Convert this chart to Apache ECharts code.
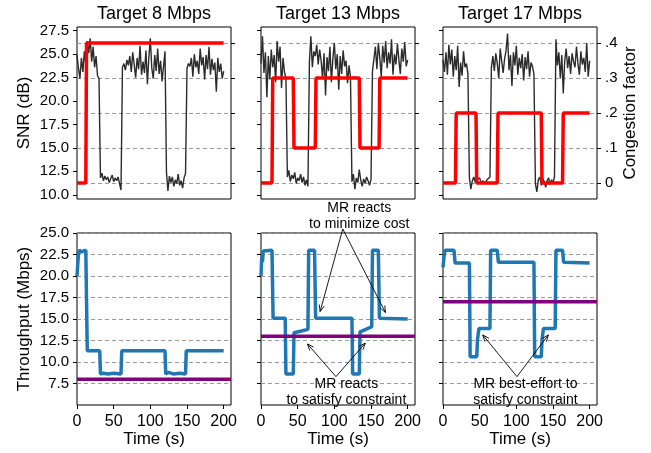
<!DOCTYPE html>
<html>
<head>
<meta charset="utf-8">
<script src="https://cdn.jsdelivr.net/npm/echarts@6/dist/echarts.min.js"></script>
<style>
html, body { margin: 0; padding: 0; background: #fff; }
#main { width: 651px; height: 453px; }
</style>
</head>
<body>
<div id="main"></div>
<script>
var titles = ['Target 8 Mbps', 'Target 13 Mbps', 'Target 17 Mbps'];
var targets = [8, 13, 17];

// SNR samples, one every 2 s from t = 0 to 200
var snrStep = 2;
var snr8 = [24.9, 23.5, 22.4, 24.6, 23.1, 25.3, 23.9, 26.4, 25.1, 26.7, 24.2, 25.8, 23.6, 24.8, 22.7, 22.4,
    11.8, 12.3, 11.5, 12.0, 11.6, 11.9, 11.3, 11.7, 12.1, 11.4, 11.8, 11.5, 11.9, 11.2, 10.5,
    23.6, 24.0, 23.3, 24.4, 23.8, 24.8, 23.1, 25.2, 23.9, 22.5, 24.6, 23.4, 25.9, 22.8, 24.2,
    23.0, 25.4, 21.8, 24.7, 26.7, 23.5, 22.4, 24.9, 23.2, 25.6, 22.9, 24.3, 22.1, 23.7, 25.3,
    12.4, 10.4, 12.0, 11.3, 11.9, 10.9, 11.6, 11.2, 12.2, 11.0, 11.5, 10.7, 11.8, 12.3,
    23.5, 24.0, 23.7, 24.6, 22.6, 25.0, 23.6, 24.3, 22.9, 25.6, 23.8, 24.7, 22.3, 24.9, 23.4,
    25.8, 22.8, 24.5, 23.3, 24.1, 21.0, 24.6, 23.1, 24.0, 22.4, 23.2];
var snr13 = [24.0, 26.9, 23.0, 25.2, 20.4, 24.8, 22.3, 25.5, 23.6, 24.9, 22.0, 26.4, 24.2, 25.8, 21.4, 24.6, 23.1, 22.4,
    11.9, 12.6, 11.4, 12.1, 11.7, 12.4, 11.2, 11.8, 11.5, 12.2, 11.3, 11.9, 11.0, 11.6, 10.9,
    24.2, 26.9, 23.6, 25.3, 24.8, 26.0, 23.9, 25.5, 24.3, 22.4, 25.1, 20.6, 24.7, 23.2, 25.8,
    22.0, 24.5, 26.2, 23.4, 25.0, 21.2, 24.8, 22.9, 25.4, 23.7, 24.3, 21.9, 23.8, 22.6,
    11.4, 12.2, 10.6, 11.8, 11.3, 12.7, 11.6, 10.9, 11.7, 11.2, 11.9, 11.5, 11.0, 11.6,
    23.2, 24.5, 25.8, 23.4, 26.2, 24.6, 22.6, 25.9, 24.1, 26.4, 23.5, 25.2, 24.0, 26.6, 22.8,
    25.0, 23.9, 26.1, 24.4, 22.9, 25.6, 24.2, 26.3, 23.7, 24.4];
var snr17 = [24.4, 23.1, 25.2, 22.8, 26.0, 23.9, 25.5, 22.6, 24.8, 23.3, 25.9, 21.5, 24.1, 22.7, 25.3, 23.6, 24.0, 22.9,
    11.8, 10.6, 11.5, 11.9, 11.3, 11.6, 11.4, 11.8, 11.2, 11.5, 11.7, 11.3, 11.6, 11.4, 11.9,
    23.6, 24.8, 23.2, 25.1, 24.0, 22.4, 25.6, 24.3, 23.0, 24.5, 25.4, 27.2, 23.3, 24.9, 21.6,
    25.2, 23.8, 25.9, 22.8, 24.6, 23.5, 25.0, 22.2, 24.7, 23.4, 25.3, 22.6, 24.1, 23.7, 22.9,
    11.2, 10.3, 11.6, 11.9, 11.0, 11.7, 11.4, 10.8, 11.5, 11.8, 11.1, 11.6, 11.3, 11.9,
    26.6, 23.8, 25.2, 22.4, 24.9, 20.8, 24.3, 25.6, 23.5, 24.8, 22.9, 25.1, 24.2, 23.6, 25.8,
    24.0, 22.8, 25.3, 23.9, 24.6, 23.1, 26.2, 22.6, 24.3];

// congestion factor [time, value]
var cong8 = [[0, 0], [12, 0], [13, 0.4], [200, 0.4]];
var cong13 = [[0, 0], [15, 0], [16, 0.3], [44, 0.3], [45, 0.1], [74, 0.1], [75, 0.3], [134, 0.3],
    [135, 0.1], [161, 0.1], [162, 0.3], [200, 0.3]];
var cong17 = [[0, 0], [17, 0], [18, 0.2], [45, 0.2], [46, 0], [74, 0], [75, 0.2], [134, 0.2],
    [135, 0], [163, 0], [164, 0.2], [200, 0.2]];

// throughput [time, Mbps]
var thr8 = [[0, 20.0], [2, 22.6], [3, 23.0], [6, 22.8], [8, 23.0], [12, 23.0], [14, 11.3], [31, 11.3],
    [32, 8.6], [36, 8.7], [42, 8.6], [50, 8.7], [60, 8.6], [61, 11.3], [120, 11.3], [121, 8.6],
    [125, 8.8], [132, 8.6], [140, 8.7], [148, 8.6], [149, 11.3], [200, 11.3]];
var thr13 = [[0, 20.0], [1, 22.2], [2, 21.6], [3, 22.9], [15, 23.0], [16.5, 15.1], [33, 15.1], [34, 8.6],
    [44, 8.6], [45, 13.4], [55, 13.6], [64, 13.8], [65, 23.0], [73, 23.0], [74.5, 15.1], [124, 15.1],
    [125, 8.6], [134, 8.6], [135, 13.5], [143, 13.8], [151, 14.1], [152, 23.0], [160, 23.0],
    [161.5, 15.1], [200, 15.0]];
var thr17 = [[0, 21.0], [2, 22.7], [3, 23.0], [15, 23.0], [16.5, 21.5], [36, 21.5], [37, 10.6], [46, 10.6],
    [47, 12.6], [49, 13.9], [64, 13.9], [65, 23.0], [74, 23.0], [75.5, 21.6], [124, 21.6], [125, 10.6],
    [134, 10.6], [135, 12.6], [137, 13.9], [153, 13.9], [154, 23.0], [163, 23.0], [164.5, 21.6], [200, 21.5]];

var snrTicks = [10, 12.5, 15, 17.5, 20, 22.5, 25, 27.5];
var congTicks = [0, 0.1, 0.2, 0.3, 0.4];
var thrTicks = [7.5, 10, 12.5, 15, 17.5, 20, 22.5, 25];
var timeTicks = [0, 50, 100, 150, 200];

// annotations, in data coords of the bottom grids
var notes = [
    { grid: 4, text: 'MR reacts\nto minimize cost', at: [134, 26.93], from: [111.5, 25.47], to: [[80.6, 15.87], [169.7, 15.75]] },
    { grid: 4, text: 'MR reacts\nto satisfy constraint', at: [116.4, 6.55], from: [102.2, 8.3], to: [[63.3, 12.1], [142.2, 12.19]] },
    { grid: 5, text: 'MR best-effort to\nsatisfy constraint', at: [112.4, 6.55], from: [100.9, 8.3], to: [[54.2, 13.15], [143.6, 13.15]] }
];

var FONT = '"Liberation Sans", Arial, sans-serif';
var colLeft = [77, 261, 443];
var colWidth = 154;
var rowTop = [27, 233];
var rowHeight = 172;

var snrAll = [snr8, snr13, snr17];
var congAll = [cong8, cong13, cong17];
var thrAll = [thr8, thr13, thr17];

function toPairs(vals) {
    return vals.map(function (v, i) { return [i * snrStep, v]; });
}

var dashed = { show: true, lineStyle: { color: '#999', type: [4, 3], width: 1 } };
var tickStyle = { color: '#000', width: 1 };

var grids = [], xAxes = [], yAxes = [], series = [], titleList = [];

for (var r = 0; r < 2; r++) {
    for (var c = 0; c < 3; c++) {
        grids.push({
            left: colLeft[c], top: rowTop[r], width: colWidth, height: rowHeight,
            show: true, borderColor: '#000', borderWidth: 1, backgroundColor: 'transparent'
        });
        var bottomRow = r === 1;
        xAxes.push({
            gridIndex: r * 3 + c, type: 'value', min: 0, max: 210,
            axisLine: { show: false },
            axisTick: { show: bottomRow, length: 4, customValues: timeTicks, lineStyle: tickStyle },
            axisLabel: { show: bottomRow, customValues: timeTicks, fontSize: 16, color: '#000', fontFamily: FONT, margin: 9 },
            splitLine: { show: false },
            name: bottomRow ? 'Time (s)' : '',
            nameLocation: 'middle', nameGap: 25,
            nameTextStyle: { fontSize: 17, color: '#000', fontFamily: FONT }
        });
    }
}

for (var c = 0; c < 3; c++) {
    titleList.push({
        text: titles[c], left: colLeft[c] + colWidth / 2, top: 5, textAlign: 'center', padding: 0,
        textStyle: { fontSize: 18, fontWeight: 'normal', color: '#000', fontFamily: FONT }
    });
}

// left SNR axes (0..2)
for (var c = 0; c < 3; c++) {
    yAxes.push({
        gridIndex: c, type: 'value', position: 'left', min: 9.55, max: 27.9,
        axisLine: { show: false },
        axisTick: { show: true, length: 4, customValues: snrTicks, lineStyle: tickStyle },
        axisLabel: {
            show: c === 0, customValues: snrTicks, fontSize: 15, color: '#000', fontFamily: FONT, margin: 8,
            formatter: function (v) { return v.toFixed(1); }
        },
        splitLine: { show: false },
        name: c === 0 ? 'SNR (dB)' : '', nameLocation: 'middle', nameGap: 44,
        nameTextStyle: { fontSize: 17, color: '#000', fontFamily: FONT }
    });
}
// right congestion axes (3..5)
for (var c = 0; c < 3; c++) {
    yAxes.push({
        gridIndex: c, type: 'value', position: 'right', min: -0.046, max: 0.446,
        axisLine: { show: false },
        axisTick: { show: true, length: 4, customValues: congTicks, lineStyle: tickStyle },
        axisLabel: {
            show: c === 2, customValues: congTicks, fontSize: 15, color: '#000', fontFamily: FONT, margin: 8,
            formatter: function (v) { return v === 0 ? '0' : '.' + Math.round(v * 10); }
        },
        splitLine: dashed,
        name: c === 2 ? 'Congestion factor' : '', nameLocation: 'middle', nameGap: 25,
        nameTextStyle: { fontSize: 17, color: '#000', fontFamily: FONT }
    });
}
// throughput axes (6..8)
for (var c = 0; c < 3; c++) {
    yAxes.push({
        gridIndex: 3 + c, type: 'value', position: 'left', min: 5, max: 25,
        axisLine: { show: false },
        axisTick: { show: true, length: 4, customValues: thrTicks, lineStyle: tickStyle },
        axisLabel: {
            show: c === 0, customValues: thrTicks, fontSize: 15, color: '#000', fontFamily: FONT, margin: 8,
            formatter: function (v) { return v.toFixed(1); }
        },
        splitLine: dashed,
        name: c === 0 ? 'Throughput (Mbps)' : '', nameLocation: 'middle', nameGap: 44,
        nameTextStyle: { fontSize: 17, color: '#000', fontFamily: FONT }
    });
}

for (var c = 0; c < 3; c++) {
    series.push({
        type: 'line', xAxisIndex: c, yAxisIndex: c, data: toPairs(snrAll[c]),
        showSymbol: false, z: 3, lineStyle: { color: '#2b2b2b', width: 1.4 }
    });
    series.push({
        type: 'line', xAxisIndex: c, yAxisIndex: 3 + c, data: congAll[c],
        showSymbol: false, z: 4, lineStyle: { color: '#ff0000', width: 3.5 }
    });
    series.push({
        type: 'line', xAxisIndex: 3 + c, yAxisIndex: 6 + c, data: thrAll[c],
        showSymbol: false, z: 3, lineStyle: { color: '#1f77b4', width: 3.5 }
    });
    series.push({
        type: 'line', xAxisIndex: 3 + c, yAxisIndex: 6 + c, data: [[0, targets[c]], [210, targets[c]]],
        showSymbol: false, z: 4, lineStyle: { color: '#800080', width: 3.5 }
    });
}

var chart = echarts.init(document.getElementById('main'));
chart.setOption({
    animation: false,
    backgroundColor: '#fff',
    title: titleList,
    grid: grids,
    xAxis: xAxes,
    yAxis: yAxes,
    series: series
});

// arrows and labels
var g = [];
notes.forEach(function (n) {
    var p0 = chart.convertToPixel({ gridIndex: n.grid }, n.from);
    n.to.forEach(function (t) {
        var p1 = chart.convertToPixel({ gridIndex: n.grid }, t);
        var a = Math.atan2(p1[1] - p0[1], p1[0] - p0[0]);
        var L = 7, w = 0.38;
        g.push({ type: 'line', z: 100, shape: { x1: p0[0], y1: p0[1], x2: p1[0], y2: p1[1] },
            style: { stroke: '#000', lineWidth: 0.9 } });
        g.push({ type: 'polyline', z: 100, shape: { points: [
                [p1[0] - L * Math.cos(a - w), p1[1] - L * Math.sin(a - w)], p1,
                [p1[0] - L * Math.cos(a + w), p1[1] - L * Math.sin(a + w)]] },
            style: { stroke: '#000', fill: null, lineWidth: 0.9 } });
    });
    var pt = chart.convertToPixel({ gridIndex: n.grid }, n.at);
    g.push({ type: 'text', z: 100, x: pt[0], y: pt[1],
        style: { text: n.text, fill: '#000', font: '14px ' + FONT, align: 'center', verticalAlign: 'middle', lineHeight: 16 } });
});
chart.setOption({ graphic: g });
</script>
</body>
</html>
